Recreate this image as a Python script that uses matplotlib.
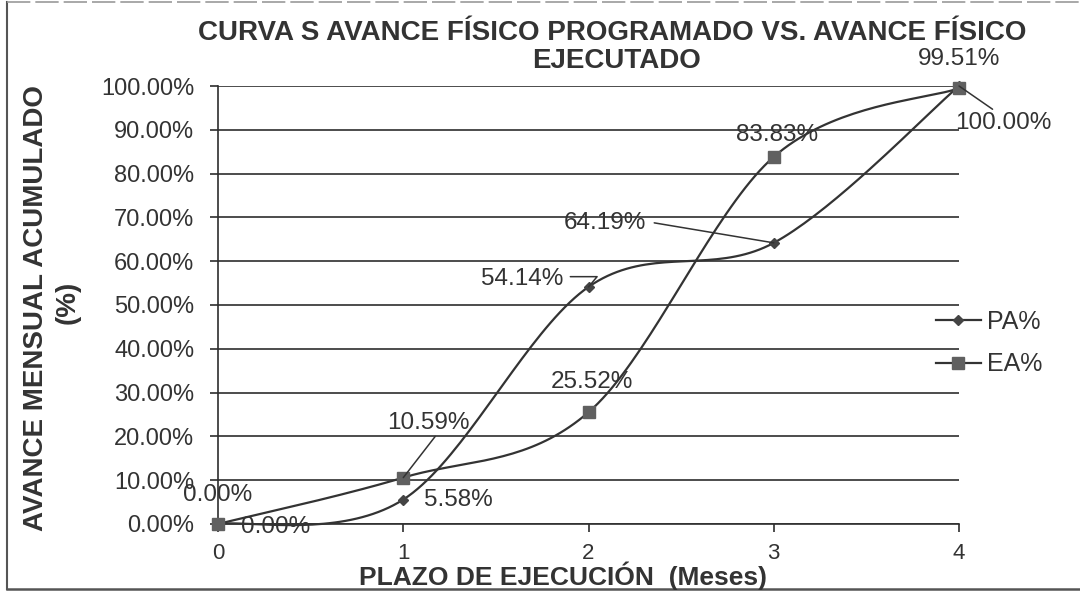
import numpy as np
import matplotlib
matplotlib.use("Agg")
import matplotlib.pyplot as plt
from matplotlib.lines import Line2D

plt.rcParams['font.family'] = ['Liberation Sans', 'DejaVu Sans']

# Data
meses = [0, 1, 2, 3, 4]
pa = [0.00, 5.58, 54.14, 64.19, 100.00]   # avance programado acumulado (%)
ea = [0.00, 10.59, 25.52, 83.83, 99.51]   # avance ejecutado acumulado (%)
pa_labels = ["0.00%", "5.58%", "54.14%", "64.19%", "100.00%"]
ea_labels = ["0.00%", "10.59%", "25.52%", "83.83%", "99.51%"]
y_ticks = [0, 10, 20, 30, 40, 50, 60, 70, 80, 90, 100]

INK = "#333333"
GRID = "#2e2e2e"


def smooth(xs, ys, sx=185.0, sy=4.38, n=40):
    """Cubic Bezier smoothing (Catmull-Rom style) through every point."""
    P = np.column_stack([np.asarray(xs, float) * sx, np.asarray(ys, float) * sy])
    ext = np.vstack([P[0], P, P[-1]])
    out = []
    t = np.linspace(0, 1, n)[:, None]
    for i in range(len(P) - 1):
        p0, p1 = ext[i + 1], ext[i + 2]
        c1 = p0 + (ext[i + 2] - ext[i]) / 6.0
        c2 = p1 - (ext[i + 3] - ext[i + 1]) / 6.0
        seg = ((1 - t) ** 3) * p0 + 3 * ((1 - t) ** 2) * t * c1 + 3 * (1 - t) * t ** 2 * c2 + t ** 3 * p1
        out.append(seg if i == 0 else seg[1:])
    out = np.vstack(out)
    return out[:, 0] / sx, out[:, 1] / sy


fig = plt.figure(figsize=(10.8, 5.92), dpi=100)
fig.patch.set_facecolor("white")
ax = fig.add_axes([0.2019, 0.1149, 0.8880 - 0.2019, 0.8547 - 0.1149])

for v in y_ticks:
    ax.axhline(v, color=GRID, lw=1.2, zorder=1)

PA_MK = dict(marker="D", ms=5, markerfacecolor="#444444", markeredgecolor="#444444")
EA_MK = dict(marker="s", ms=8.5, markerfacecolor="#606060", markeredgecolor="#606060")

xs, ys = smooth(meses, pa)
ax.plot(xs, ys, color=INK, lw=1.6, zorder=3, clip_on=False)
ax.plot(meses, pa, ls="none", zorder=4, clip_on=False, **PA_MK)

xs, ys = smooth(meses, ea)
ax.plot(xs, ys, color=INK, lw=1.6, zorder=3, clip_on=False)
ax.plot(meses, ea, ls="none", zorder=4, clip_on=False, **EA_MK)

ax.set_xlim(0, 4)
ax.set_ylim(0, 100)
ax.set_xticks(meses)
ax.set_xticklabels([str(m) for m in meses], fontsize=16, color=INK)
ax.set_yticks(y_ticks)
ax.set_yticklabels([f"{v:.2f}%" for v in y_ticks], fontsize=17, color=INK)
ax.tick_params(axis="y", length=6, width=1.2, color=GRID, pad=11)
ax.tick_params(axis="x", length=6, width=1.2, color=GRID, pad=8)
ax.spines["top"].set_visible(False)
ax.spines["right"].set_visible(False)
for s in ("left", "bottom"):
    ax.spines[s].set_color(GRID)
    ax.spines[s].set_linewidth(1.2)

lab = dict(fontsize=17.5, color=INK, zorder=5, textcoords="offset pixels",
           ha="center", va="center")
line = dict(arrowstyle="-", color=INK, lw=1.1, shrinkA=0, shrinkB=0)

# PA% labels
ax.annotate(pa_labels[0], (meses[0], pa[0]), xytext=(58, -3), **lab)
ax.annotate(pa_labels[1], (meses[1], pa[1]), xytext=(55, 0), **lab)
ax.annotate(pa_labels[2], (meses[2], pa[2]), xytext=(-66, 8),
            arrowprops=dict(relpos=(1.08, 0.6), connectionstyle="angle,angleA=0,angleB=50,rad=0", **line),
            **lab)
ax.annotate(pa_labels[3], (meses[3], pa[3]), xytext=(-169, 20),
            arrowprops=dict(relpos=(1.1, 0.5), **line), **lab)
ax.annotate(pa_labels[4], (meses[4], pa[4]), xytext=(44, -37),
            arrowprops=dict(relpos=(0.4, 1.1), **line), **lab)

# EA% labels
ax.annotate(ea_labels[0], (meses[0], ea[0]), xytext=(0, 29), **lab)
ax.annotate(ea_labels[1], (meses[1], ea[1]), xytext=(25, 55),
            arrowprops=dict(relpos=(0.6, -0.05), **line), **lab)
ax.annotate(ea_labels[2], (meses[2], ea[2]), xytext=(3, 30), **lab)
ax.annotate(ea_labels[3], (meses[3], ea[3]), xytext=(3, 22), **lab)
ax.annotate(ea_labels[4], (meses[4], ea[4]), xytext=(0, 29), **lab)

# Legend
handles = [Line2D([], [], color=INK, lw=1.6, **PA_MK),
           Line2D([], [], color=INK, lw=1.6, **EA_MK)]
fig.legend(handles, ["PA%", "EA%"], loc="center left", bbox_to_anchor=(0.857, 1 - 343 / 592),
           frameon=False, fontsize=18, handlelength=1.8, handletextpad=0.25, labelspacing=0.75,
           labelcolor=INK, borderaxespad=0)

# Titles
TB = dict(ha="center", va="center", fontsize=20, fontweight="bold", color=INK)
fig.text(612 / 1080, 1 - 33 / 592, "CURVA S AVANCE FÍSICO PROGRAMADO VS. AVANCE FÍSICO", **TB)
fig.text(617 / 1080, 1 - 61 / 592, "EJECUTADO", **TB)
fig.text(36 / 1080, 1 - 308 / 592, "AVANCE MENSUAL ACUMULADO", rotation=90, **TB)
fig.text(68 / 1080, 1 - 302 / 592, "(%)", rotation=90, **TB)
fig.text(563 / 1080, 1 - 576 / 592, "PLAZO DE EJECUCIÓN  (Meses)",
         ha="center", va="center", fontsize=19, fontweight="bold", color=INK)

# Outer chart frame: solid left/bottom edges, faint top edge
fr = fig.transFigure
fig.add_artist(Line2D([7 / 1080, 7 / 1080], [3 / 592, 1 - 2 / 592], transform=fr, color="#555555", lw=1.5))
fig.add_artist(Line2D([7 / 1080, 1], [3 / 592, 3 / 592], transform=fr, color="#555555", lw=1.8))
fig.add_artist(Line2D([7 / 1080, 1], [1 - 2 / 592, 1 - 2 / 592], transform=fr, color="#9a9a9a", lw=1.2,
                      ls=(0, (14, 3))))

fig.savefig("out.png", dpi=100, facecolor="white")
